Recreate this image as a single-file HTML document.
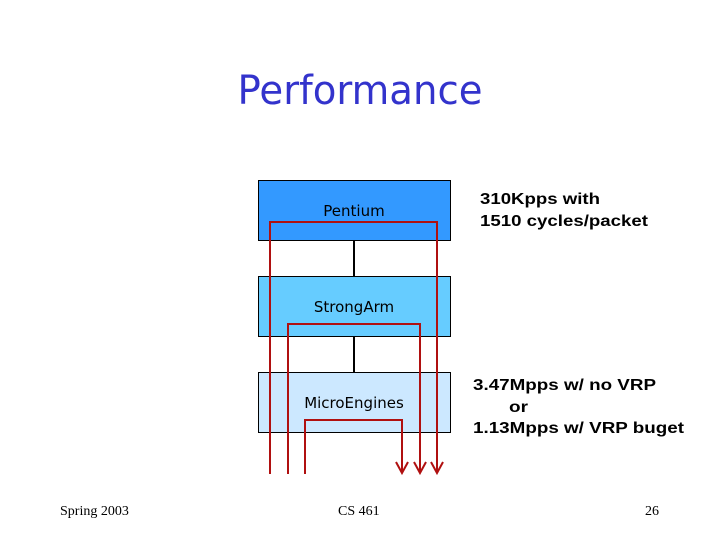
<!DOCTYPE html>
<html><head><meta charset="utf-8"><style>
html,body{margin:0;padding:0;background:#fff}
svg{display:block}
</style></head><body>
<svg width="720" height="540" viewBox="0 0 720 540" xmlns="http://www.w3.org/2000/svg">
<text x="360" y="104" text-anchor="middle" font-family="DejaVu Sans, Liberation Sans, sans-serif" font-size="40" fill="#3333cc" textLength="245" lengthAdjust="spacingAndGlyphs">Performance</text>
<line x1="354" y1="240" x2="354" y2="276" stroke="#000" stroke-width="2"/>
<line x1="354" y1="336" x2="354" y2="372" stroke="#000" stroke-width="2"/>
<rect x="258.5" y="180.5" width="192" height="60" fill="#3399ff" stroke="#000"/>
<rect x="258.5" y="276.5" width="192" height="60" fill="#66ccff" stroke="#000"/>
<rect x="258.5" y="372.5" width="192" height="60" fill="#cce8ff" stroke="#000"/>
<g font-family="DejaVu Sans, Liberation Sans, sans-serif" font-size="15" fill="#000" text-anchor="middle">
<text x="354" y="216">Pentium</text>
<text x="354" y="312">StrongArm</text>
<text x="354" y="408">MicroEngines</text>
</g>
<g fill="none" stroke="#b01010" stroke-width="2">
<polyline points="270,474 270,222 437,222 437,472"/>
<polyline points="288,474 288,324 420,324 420,472"/>
<polyline points="305,474 305,420 402,420 402,472"/>
<polyline points="396,462 402,473 408,462"/>
<polyline points="414,462 420,473 426,462"/>
<polyline points="431,462 437,473 443,462"/>
</g>
<g font-family="Liberation Sans, Arial, sans-serif" font-size="16" font-weight="bold" fill="#000" lengthAdjust="spacingAndGlyphs">
<text x="480" y="204" textLength="120" lengthAdjust="spacingAndGlyphs">310Kpps with</text>
<text x="480" y="226" textLength="168" lengthAdjust="spacingAndGlyphs">1510 cycles/packet</text>
<text x="473" y="390" textLength="183" lengthAdjust="spacingAndGlyphs">3.47Mpps w/ no VRP</text>
<text x="509" y="412" textLength="19" lengthAdjust="spacingAndGlyphs">or</text>
<text x="473" y="433" textLength="211" lengthAdjust="spacingAndGlyphs">1.13Mpps w/ VRP buget</text>
</g>
<g font-family="Liberation Serif, serif" font-size="14" fill="#000">
<text x="60" y="515">Spring 2003</text>
<text x="338" y="515">CS 461</text>
<text x="645" y="515">26</text>
</g>
</svg>
</body></html>
